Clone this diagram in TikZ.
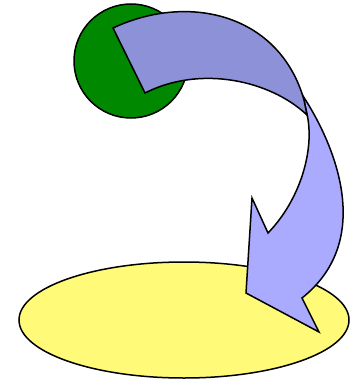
\documentclass[tikz,border=0pt]{standalone}
\begin{document}
\begin{tikzpicture}[x=1pt,y=-1pt,
  outline/.style={draw=black,line width=1.5pt,line join=miter},
]
\definecolor{dkgreen}{RGB}{0,136,0}
\definecolor{paleyellow}{RGB}{255,250,120}
\definecolor{bandblue}{RGB}{140,145,216}
\definecolor{lightblue}{RGB}{170,170,255}
\useasboundingbox (0,0) rectangle (349,382);
% yellow ellipse
\path[outline,fill=paleyellow] (184,320) ellipse [x radius=165, y radius=58];
% green circle
\path[outline,fill=dkgreen] (131,61) circle [radius=57];
% lower light part of the arrow
\path[outline,fill=lightblue] (303,96)
  .. controls (335,145) and (375,240) .. (302,298)
  -- (319,332) -- (246,293) -- (252,198) -- (268,233)
  .. controls (300,200) and (315,150) .. (307,114) -- cycle;
% upper dark band
\path[outline,fill=bandblue] (113,28)
  .. controls (190,-8) and (280,15) .. (304,100)
  -- (307,115)
  .. controls (270,80) and (200,65) .. (145,93) -- cycle;
\end{tikzpicture}
\end{document}
